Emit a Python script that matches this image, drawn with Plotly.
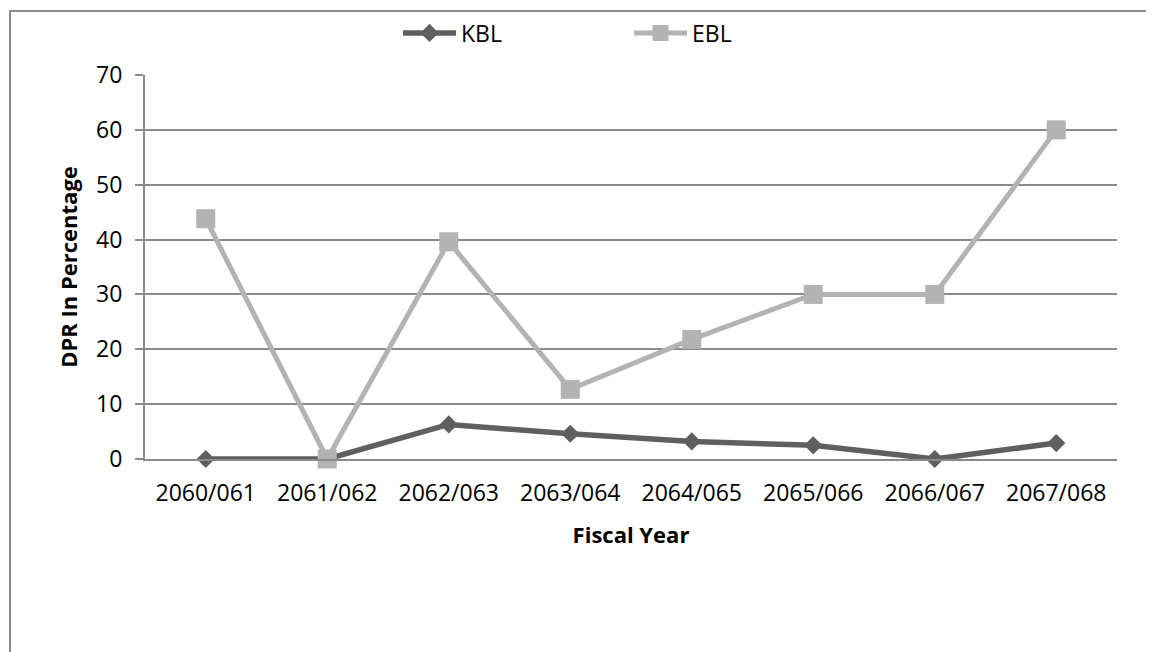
import plotly.graph_objects as go

years = ["2060/061", "2061/062", "2062/063", "2063/064",
         "2064/065", "2065/066", "2066/067", "2067/068"]
kbl = [0, 0, 6.3, 4.6, 3.2, 2.5, 0, 2.9]
ebl = [43.8, 0, 39.6, 12.7, 21.8, 30, 30, 60]

FONT = "Open Sans"
GRID = "#8a8a8a"

fig = go.Figure()
fig.add_trace(go.Scatter(
    x=years, y=kbl, name="KBL", mode="lines+markers",
    line=dict(color="#5f5f5f", width=5.5),
    marker=dict(symbol="diamond", size=14, color="#5f5f5f"),
    cliponaxis=False))
fig.add_trace(go.Scatter(
    x=years, y=ebl, name="EBL", mode="lines+markers",
    line=dict(color="#b3b3b3", width=5),
    marker=dict(symbol="square", size=19, color="#b3b3b3"),
    cliponaxis=False))

OFF = 8  # page body margin
W, H = 1154 - OFF, 652 - OFF
L, T = 145 - OFF, 75 - OFF
pw, ph = 972, 384
R, B = W - L - pw, H - T - ph

def px_x(x):  # reference-page x -> paper x
    return (x - OFF - L) / pw

def px_y(y):  # reference-page y -> paper y
    return (T + ph - (y - OFF)) / ph

fig.update_layout(
    width=W, height=H,
    margin=dict(l=L, r=R, t=T, b=B, autoexpand=False),
    paper_bgcolor="white", plot_bgcolor="white",
    font=dict(family=FONT, size=23, color="black"),
    showlegend=True,
    legend=dict(orientation="h", x=px_x(398), xanchor="left",
                y=px_y(33), yanchor="middle",
                font=dict(family=FONT, size=23, color="black"),
                itemwidth=53,
                entrywidth=163, entrywidthmode="pixels",
                bgcolor="rgba(0,0,0,0)"),
    xaxis=dict(
        type="category", range=[-0.5, 7.5],
        showgrid=False, showline=True, linecolor=GRID, linewidth=2,
        ticks="", ticklabelstandoff=12,
        tickfont=dict(family=FONT, size=23, color="black"),
        title=dict(text="<b>Fiscal Year</b>", standoff=21,
                   font=dict(family=FONT, size=22, color="black")),
        zeroline=False, fixedrange=True),
    yaxis=dict(
        range=[0, 70], dtick=10, tick0=0,
        showgrid=True, gridcolor=GRID, gridwidth=2,
        showline=True, linecolor=GRID, linewidth=2,
        ticks="outside", ticklen=8, tickcolor=GRID, tickwidth=2,
        ticklabelstandoff=8,
        tickfont=dict(family=FONT, size=23, color="black"),
        title=dict(text="<b>DPR In Percentage</b>", standoff=12,
                   font=dict(family=FONT, size=22, color="black")),
        zeroline=False, fixedrange=True),
)

# outer chart-area border (top and left visible; right/bottom run off the page)
fig.add_shape(type="rect", xref="paper", yref="paper",
              x0=px_x(10), x1=px_x(1180),
              y0=px_y(680), y1=px_y(11),
              line=dict(color="#8c8c8c", width=2), layer="below")

fig.write_html("out.html")
